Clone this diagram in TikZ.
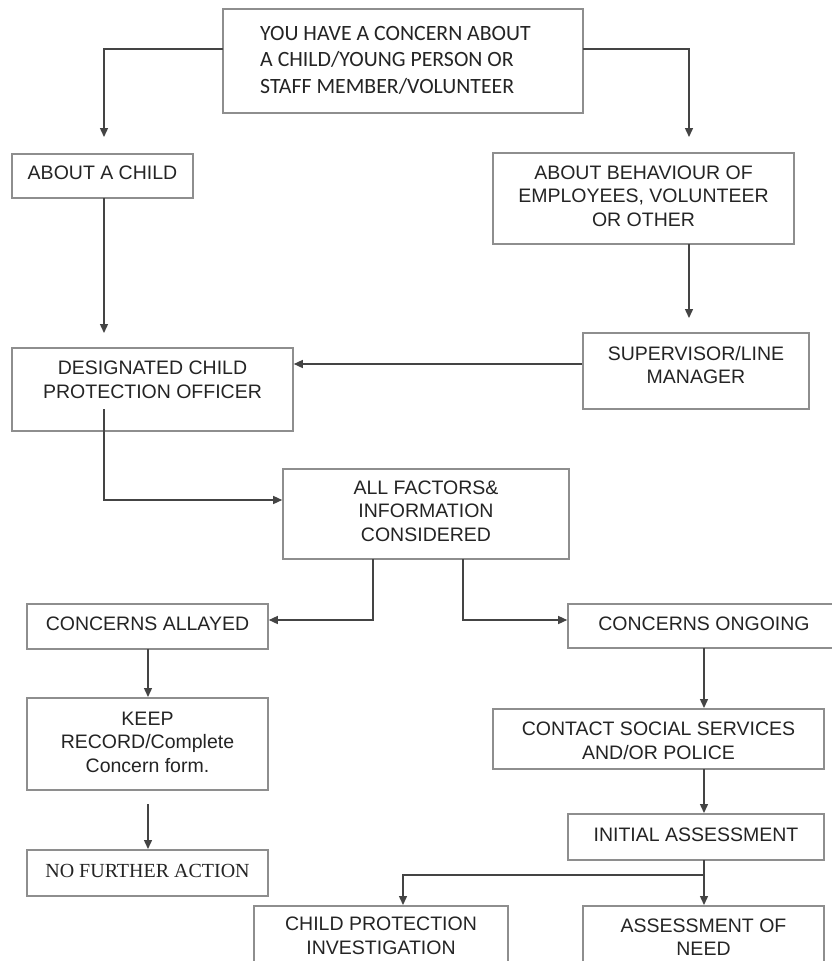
\documentclass[tikz,border=0pt]{standalone}
\usepackage{fontspec}
\setmainfont{Liberation Sans}
\newfontfamily\calib{Carlito}
\newfontfamily\tms{Liberation Serif}
\usetikzlibrary{arrows.meta,calc}
\definecolor{boxc}{HTML}{8E8E8E}
\definecolor{linec}{HTML}{444444}
\definecolor{txtc}{HTML}{242424}
\tikzset{
  boxst/.style={draw=boxc, line width=1.6pt, inner sep=0pt, rectangle},
  txt/.style={text=txtc, align=center, inner sep=0pt, font=\fontsize{19.5}{23.5}\selectfont},
  conn/.style={draw=linec, line width=1.4pt, -{Triangle[length=9pt,width=8pt]}},
}
% \bx{name}{x1}{y1}{x2}{y2}{text centre y}{text}
\newcommand\bx[7]{%
  \node[boxst, minimum width={#4-#2}, minimum height={#5-#3}] (#1) at ({(#2+#4)/2},{(#3+#5)/2}) {};
  \node[txt] (#1t) at ({(#2+#4)/2},#6) {#7};}
\begin{document}
\begin{tikzpicture}[x=1pt,y=-1pt]
\useasboundingbox (0,0) rectangle (832,961);
\fill[white] (0,0) rectangle (832,961);

% top box
\node[boxst, minimum width=360, minimum height=104] (top) at (403,61) {};
\node[txt, align=left, anchor=west, font=\calib\fontsize{21.8}{26.5}\selectfont] (topt) at (260,60)
  {YOU HAVE A CONCERN ABOUT\\A CHILD/YOUNG PERSON OR\\STAFF MEMBER/VOLUNTEER};

\bx{child}{12}{154}{193}{198}{173}{ABOUT A CHILD}
\bx{behav}{493}{153}{794}{244}{196}{ABOUT BEHAVIOUR OF\\EMPLOYEES, VOLUNTEER\\OR OTHER}
\bx{dcpo}{12}{348}{293}{431}{380}{DESIGNATED CHILD\\PROTECTION OFFICER}
\bx{sup}{583}{333}{809}{409}{365}{SUPERVISOR/LINE\\MANAGER}
\bx{allf}{283}{469}{569}{559}{511}{ALL FACTORS\&\\INFORMATION\\CONSIDERED}
\bx{allay}{27}{604}{268}{649}{624}{CONCERNS ALLAYED}
\bx{ongo}{568}{604}{840}{648}{624}{CONCERNS ONGOING}
\bx{keep}{27}{698}{268}{790}{742}{KEEP\\RECORD/Complete\\Concern form.}
\node[boxst, minimum width=241, minimum height=46] (nfa) at (147.5,873) {};
\node[txt, font=\tms\fontsize{20}{23.5}\selectfont] (nfat) at (147.5,871) {NO FURTHER ACTION};
\bx{contact}{493}{709}{824}{769}{741}{CONTACT SOCIAL SERVICES\\AND/OR POLICE}
\bx{init}{568}{814}{824}{860}{835}{INITIAL ASSESSMENT}
\bx{cpi}{254}{906}{508}{1000}{936}{CHILD PROTECTION\\INVESTIGATION}
\bx{aon}{583}{906}{824}{1000}{937}{ASSESSMENT OF\\NEED}

% connector points
\coordinate (tl) at (223,49);
\coordinate (tr) at (583,49);
\coordinate (childIn) at (104,137);
\coordinate (behavIn) at (689,137);
\coordinate (childOut) at (104,198);
\coordinate (dcpoIn) at (104,333);
\coordinate (behavOut) at (689,244);
\coordinate (supIn) at (689,318);
\coordinate (dcpoOut) at (104,409);
\coordinate (allfL) at (373,559);
\coordinate (allfR) at (463,559);
\coordinate (allayOut) at (148,649);
\coordinate (keepIn) at (148,697);
\coordinate (keepOut) at (148,804);
\coordinate (nfaIn) at (148,849);
\coordinate (ongoOut) at (704,648);
\coordinate (contactIn) at (704,708);
\coordinate (contactOut) at (704,769);
\coordinate (initIn) at (704,813);
\coordinate (initOut) at (704,860);
\coordinate (split) at (704,875);
\coordinate (aonIn) at (704,905);
\coordinate (cpiIn) at (403,905);

\draw[conn] (tl) -| (childIn);
\draw[conn] (tr) -| (behavIn);
\draw[conn] (childOut) -- (dcpoIn);
\draw[conn] (behavOut) -- (supIn);
\draw[conn] (sup.west |- 0,364) -- (dcpo.east |- 0,364);
\draw[conn] (dcpoOut) |- (allf.west |- 0,500);
\draw[conn] (allfL) |- (allay.east |- 0,620);
\draw[conn] (allfR) |- (ongo.west |- 0,620);
\draw[conn] (allayOut) -- (keepIn);
\draw[conn] (keepOut) -- (nfaIn);
\draw[conn] (ongoOut) -- (contactIn);
\draw[conn] (contactOut) -- (initIn);
\draw[conn] (initOut) -- (aonIn);
\draw[conn] (split) -| (cpiIn);
\end{tikzpicture}
\end{document}
